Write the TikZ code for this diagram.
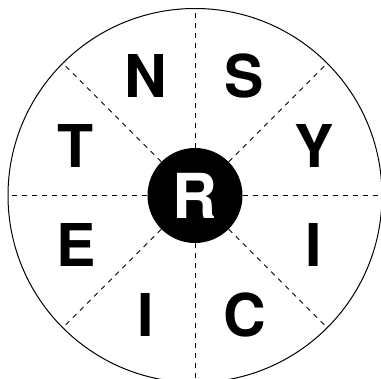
\documentclass[tikz,border=0pt]{standalone}
\usepackage{fontspec}
\setmainfont{TeX Gyre Heros}
\usetikzlibrary{calc}
\begin{document}
\begin{tikzpicture}[x=1pt,y=-1pt,
  letter/.style={font=\fontsize{59}{59}\selectfont\bfseries, inner sep=0pt, anchor=center},
  divider/.style={draw=black, line width=0.9pt, dash pattern=on 5pt off 5pt},
  hub/.style={circle, fill=black, minimum size=95pt, inner sep=0pt, text=white, font=\fontsize{62}{62}\selectfont\bfseries}]
\useasboundingbox (0,0) rectangle (381,379);
\clip (0,0) rectangle (381,379);
\coordinate (o) at (195,195.5);
\draw[line width=1pt] (o) circle[radius=187pt];
\node[hub] (c) at (o) {R};
\foreach \a in {0,45,...,315} {
  \coordinate (e\a) at ($(o)+(\a:187pt)$);
}
\foreach \a in {0,45,...,315} {
  \draw[divider] (c.\a) -- (e\a);
}
\node[letter] (ln) at ($(o)+(112.5:129pt)$) {N};
\node[letter] (ls) at ($(o)+(67.5:129pt)$) {S};
\node[letter] (ly) at ($(o)+(22.5:129pt)$) {Y};
\node[letter] (li1) at ($(o)+(-22.5:129pt)$) {I};
\node[letter] (lc) at ($(o)+(-67.5:129pt)$) {C};
\node[letter] (li2) at ($(o)+(-112.5:129pt)$) {I};
\node[letter] (le) at ($(o)+(-157.5:129pt)$) {E};
\node[letter] (lt) at ($(o)+(157.5:129pt)$) {T};
\end{tikzpicture}
\end{document}
